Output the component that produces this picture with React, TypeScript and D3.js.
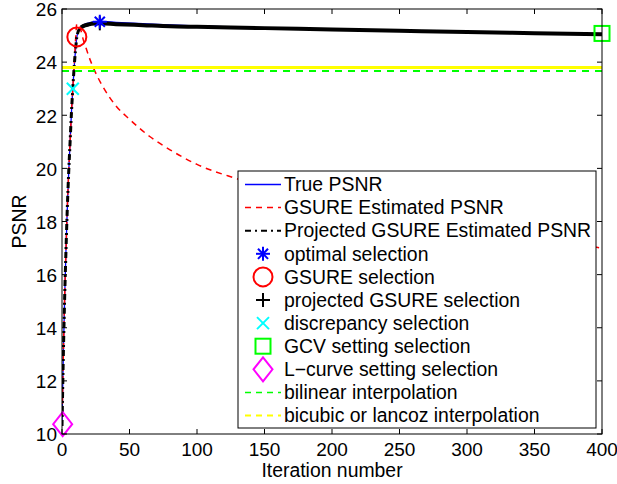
import * as d3 from 'd3';

// iteration grid
const iters = [0, 1, 2, 3, 4, 5, 6, 7, 8, 9, 10, 11, 12, 14, 17, 20, 24, 28, 40, 60, 80, 100, 150, 200, 250, 300, 350, 400];
const truePsnr = [10.3, 13.0, 15.2, 17.0, 18.6, 19.9, 21.0, 22.1, 23.0, 23.8, 24.45, 24.95, 25.15, 25.32, 25.43, 25.48, 25.52, 25.53, 25.5, 25.45, 25.4, 25.36, 25.29, 25.23, 25.18, 25.13, 25.09, 25.05];
const projPsnr = [10.3, 13.0, 15.2, 17.0, 18.6, 19.9, 21.0, 22.1, 23.0, 23.8, 24.45, 24.95, 25.15, 25.3, 25.38, 25.42, 25.45, 25.46, 25.43, 25.39, 25.35, 25.33, 25.28, 25.23, 25.18, 25.13, 25.09, 25.05];

const gsureIters = [0, 1, 2, 3, 4, 5, 6, 7, 8, 9, 10, 11, 13, 16, 18, 20, 24, 30, 40, 50, 65, 80, 100, 127, 150, 200, 250, 300, 350, 400];
const gsurePsnr = [10.3, 13.0, 15.2, 17.0, 18.6, 19.9, 21.0, 22.1, 23.0, 23.9, 24.8, 25.45, 25.35, 24.8, 24.5, 24.2, 23.7, 23.1, 22.35, 21.85, 21.2, 20.7, 20.15, 19.65, 19.3, 18.7, 18.2, 17.75, 17.35, 17.0];

const bilinearPsnr = 23.67;
const bicubicPsnr = 23.8;

// selections: [iteration, psnr]
const optimalSel: [number, number] = [28, 25.52];
const gsureSel: [number, number] = [11, 24.95];
const projSel: [number, number] = [28, 25.46];
const discrepancySel: [number, number] = [8, 23.0];
const gcvSel: [number, number] = [400, 25.08];
const lcurveSel: [number, number] = [0.5, 10.37];

const xTicks = [0, 50, 100, 150, 200, 250, 300, 350, 400];
const yTicks = [10, 12, 14, 16, 18, 20, 22, 24, 26];

const legendLabels = [
  'True PSNR',
  'GSURE Estimated PSNR',
  'Projected GSURE Estimated PSNR',
  'optimal selection',
  'GSURE selection',
  'projected GSURE selection',
  'discrepancy selection',
  'GCV setting selection',
  'L\u2212curve setting selection',
  'bilinear interpolation',
  'bicubic or lancoz interpolation',
];

const W = 617;
const H = 484;
const FONT = "Arial, 'Liberation Sans', Helvetica, sans-serif";
const FS = 19.4;
const TICK_FS = 19;

function Star({ x, y, s = 7 }: { x: number; y: number; s?: number }) {
  const d = s * 0.72;
  return (
    <g stroke="#0000ff" strokeWidth={2}>
      <line x1={x - s} y1={y} x2={x + s} y2={y} />
      <line x1={x} y1={y - s} x2={x} y2={y + s} />
      <line x1={x - d} y1={y - d} x2={x + d} y2={y + d} />
      <line x1={x - d} y1={y + d} x2={x + d} y2={y - d} />
    </g>
  );
}

function Cross({ x, y, s = 6 }: { x: number; y: number; s?: number }) {
  return (
    <g stroke="#00ffff" strokeWidth={2}>
      <line x1={x - s} y1={y - s} x2={x + s} y2={y + s} />
      <line x1={x - s} y1={y + s} x2={x + s} y2={y - s} />
    </g>
  );
}

function Plus({ x, y, s = 7 }: { x: number; y: number; s?: number }) {
  return (
    <g stroke="#000" strokeWidth={2}>
      <line x1={x - s} y1={y} x2={x + s} y2={y} />
      <line x1={x} y1={y - s} x2={x} y2={y + s} />
    </g>
  );
}

function Diamond({ x, y }: { x: number; y: number }) {
  return (
    <path
      d={`M${x},${y - 12}L${x + 9.5},${y}L${x},${y + 12}L${x - 9.5},${y}Z`}
      fill="none"
      stroke="#ff00ff"
      strokeWidth={2}
    />
  );
}

export default function App() {
  const left = 62, right = 602, top = 9, bottom = 434;
  const x = d3.scaleLinear().domain([0, 400]).range([left, right]);
  const y = d3.scaleLinear().domain([10, 26]).range([bottom, top]);

  const line = d3.line<[number, number]>()
    .x(d => x(d[0]))
    .y(d => y(d[1]))
    .curve(d3.curveMonotoneX);

  const trueData = iters.map((it, i) => [it, truePsnr[i]] as [number, number]);
  const projData = iters.map((it, i) => [it, projPsnr[i]] as [number, number]);
  const gsureData = gsureIters.map((it, i) => [it, gsurePsnr[i]] as [number, number]);
  const projRise = projData.filter(d => d[0] <= 20);
  const projFlat = projData.filter(d => d[0] >= 14);

  // legend layout
  const lgX0 = 238, lgX1 = 596, lgY0 = 171, lgY1 = 428;
  const rowY = (i: number) => 184.5 + i * 23.1;
  const sampleX0 = 245, sampleX1 = 281, markX = 263, textX = 284;

  return (
    <svg width={W} height={H} style={{ position: 'absolute', left: 0, top: 0, background: '#fff' }} fontFamily={FONT}>
      <rect width={W} height={H} fill="#fff" />

      <defs>
        <clipPath id="plot">
          <rect x={left} y={top} width={right - left} height={bottom - top} />
        </clipPath>
      </defs>

      <g clipPath="url(#plot)">
        <path d={line(trueData) || ''} fill="none" stroke="#0000ff" strokeWidth={1.3} />
        <path d={line(gsureData) || ''} fill="none" stroke="#ff0000" strokeWidth={1.5} strokeDasharray="6,5" />
        <path d={line(projRise) || ''} fill="none" stroke="#000" strokeWidth={3} strokeDasharray="6,3,2,3" />
        <path d={line(projFlat) || ''} fill="none" stroke="#000" strokeWidth={4} />
        <line x1={left} x2={right} y1={y(bicubicPsnr)} y2={y(bicubicPsnr)} stroke="#ffff00" strokeWidth={3} />
        <line x1={left} x2={right} y1={y(bilinearPsnr)} y2={y(bilinearPsnr)} stroke="#00ff00" strokeWidth={2} strokeDasharray="7,6" />
      </g>

      {/* selection markers */}
      <Plus x={x(projSel[0])} y={y(projSel[1])} />
      <Star x={x(optimalSel[0])} y={y(optimalSel[1])} />
      <circle cx={x(gsureSel[0])} cy={y(gsureSel[1])} r={9.5} fill="none" stroke="#ff0000" strokeWidth={2} />
      <Cross x={x(discrepancySel[0])} y={y(discrepancySel[1])} />
      <rect x={x(gcvSel[0]) - 7.5} y={y(gcvSel[1]) - 7.5} width={15} height={15} fill="none" stroke="#00ff00" strokeWidth={2} />
      <Diamond x={x(lcurveSel[0])} y={y(lcurveSel[1])} />

      {/* axes box */}
      <rect x={left} y={top} width={right - left} height={bottom - top} fill="none" stroke="#000" strokeWidth={1} />
      {xTicks.map(t => (
        <g key={'x' + t}>
          <line x1={x(t)} x2={x(t)} y1={bottom} y2={bottom - 5} stroke="#000" />
          <line x1={x(t)} x2={x(t)} y1={top} y2={top + 5} stroke="#000" />
          <text x={x(t)} y={456} textAnchor="middle" fontSize={TICK_FS}>{t}</text>
        </g>
      ))}
      {yTicks.map(t => (
        <g key={'y' + t}>
          <line x1={left} x2={left + 5} y1={y(t)} y2={y(t)} stroke="#000" />
          <line x1={right} x2={right - 5} y1={y(t)} y2={y(t)} stroke="#000" />
          <text x={57} y={y(t) + 7.3} textAnchor="end" fontSize={TICK_FS}>{t}</text>
        </g>
      ))}
      <text x={(left + right) / 2} y={477} textAnchor="middle" fontSize={FS}>Iteration number</text>
      <text transform={`translate(26,${(top + bottom) / 2}) rotate(-90)`} textAnchor="middle" fontSize={FS}>PSNR</text>

      {/* legend */}
      <rect x={lgX0} y={lgY0} width={lgX1 - lgX0} height={lgY1 - lgY0} fill="#fff" stroke="#000" strokeWidth={1} />
      <line x1={sampleX0} x2={sampleX1} y1={rowY(0)} y2={rowY(0)} stroke="#0000ff" strokeWidth={1.5} />
      <line x1={sampleX0} x2={sampleX1} y1={rowY(1)} y2={rowY(1)} stroke="#ff0000" strokeWidth={1.5} strokeDasharray="6,5" />
      <line x1={sampleX0} x2={sampleX1} y1={rowY(2)} y2={rowY(2)} stroke="#000" strokeWidth={2} strokeDasharray="6,4,2,4" />
      <Star x={markX} y={rowY(3)} />
      <circle cx={markX} cy={rowY(4)} r={9.5} fill="none" stroke="#ff0000" strokeWidth={2} />
      <Plus x={markX} y={rowY(5)} />
      <Cross x={markX} y={rowY(6)} />
      <rect x={markX - 7.5} y={rowY(7) - 7.5} width={15} height={15} fill="none" stroke="#00ff00" strokeWidth={2} />
      <Diamond x={markX} y={rowY(8)} />
      <line x1={sampleX0} x2={sampleX1} y1={rowY(9)} y2={rowY(9)} stroke="#00ff00" strokeWidth={1.5} strokeDasharray="6,5" />
      <line x1={sampleX0} x2={sampleX1} y1={rowY(10)} y2={rowY(10)} stroke="#ffff00" strokeWidth={2} strokeDasharray="6,5" />
      {legendLabels.map((l, i) => (
        <text key={l} x={textX} y={rowY(i)} dy="0.35em" fontSize={FS}>{l}</text>
      ))}
    </svg>
  );
}
